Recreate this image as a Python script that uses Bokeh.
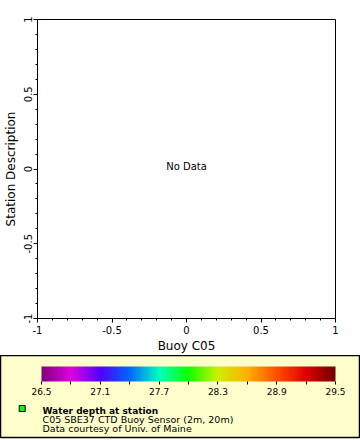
import numpy as np
from bokeh.plotting import figure
from bokeh.layouts import column, row
from bokeh.models import (FixedTicker, CustomJSTickFormatter, LinearColorMapper,
                          ColorBar, Range1d)
from bokeh.core.properties import value
from bokeh.embed import file_html
from bokeh.resources import INLINE

# ---------------- data ----------------
x_limits = [-1, 1]
y_limits = [-1, 1]
major_ticks = [-1, -0.5, 0, 0.5, 1]
minor_ticks = [-0.9, -0.8, -0.7, -0.6, -0.4, -0.3, -0.2, -0.1,
               0.1, 0.2, 0.3, 0.4, 0.6, 0.7, 0.8, 0.9]
x_axis_title = "Buoy C05"
y_axis_title = "Station Description"
no_data_x = [0]
no_data_y = [0]
no_data_text = ["No Data"]

cb_low = 26.5
cb_high = 29.5
cb_label_ticks = [26.5, 27.1, 27.7, 28.3, 28.9, 29.5]
cb_minor_ticks = [26.8, 27.4, 28.0, 28.6, 29.2]

legend_title = "Water depth at station"
legend_lines = ["C05 SBE37 CTD Buoy Sensor (2m, 20m)",
                "Data courtesy of Univ. of Maine"]

# ---------------- style ----------------
FONT = "DejaVu Sans"
anchors = [(0.0, "#800080"), (0.1, "#e000e0"), (0.2, "#5000ff"), (0.3, "#0068ff"),
           (0.4, "#00ffc0"), (0.5, "#10ff00"), (0.6, "#ccf000"), (0.7, "#ffb000"),
           (0.8, "#ff5000"), (0.9, "#e00000"), (1.0, "#700000")]


def hex2rgb(h):
    return [int(h[i:i + 2], 16) for i in (1, 3, 5)]


def build_palette(n=256):
    pos = [a[0] for a in anchors]
    rgb = np.array([hex2rgb(a[1]) for a in anchors], dtype=float)
    t = np.linspace(0, 1, n)
    out = []
    for ti in t:
        c = [np.interp(ti, pos, rgb[:, k]) for k in range(3)]
        out.append("#%02x%02x%02x" % tuple(int(round(v)) for v in c))
    return out


palette = build_palette()

# ---------------- main plot ----------------
p = figure(width=360, height=355, x_range=Range1d(*x_limits), y_range=Range1d(*y_limits),
           output_backend="svg", toolbar_location=None,
           min_border_left=37, min_border_right=25, min_border_top=19, min_border_bottom=36)
p.grid.visible = False
p.outline_line_color = "black"
p.outline_line_alpha = 1.0
p.background_fill_color = "white"
p.border_fill_color = "white"

fmt = CustomJSTickFormatter(code="return String(tick);")
for ax, title in ((p.xaxis[0], x_axis_title), (p.yaxis[0], y_axis_title)):
    ax.ticker = FixedTicker(ticks=major_ticks, minor_ticks=minor_ticks)
    ax.formatter = fmt
    ax.axis_label = title
    ax.axis_label_text_font = FONT
    ax.axis_label_text_font_size = "12px"
    ax.axis_label_text_font_style = "normal"
    ax.axis_label_text_color = "black"
    ax.major_label_text_font = FONT
    ax.major_label_text_font_size = "10px"
    ax.major_label_text_color = "black"
    ax.axis_line_color = "black"
    ax.major_tick_line_color = "black"
    ax.minor_tick_line_color = "black"
    ax.major_tick_in = 0
    ax.major_tick_out = 4
    ax.minor_tick_in = 0
    ax.minor_tick_out = 2

p.xaxis.major_label_standoff = 3
p.xaxis.axis_label_standoff = 2
p.yaxis.major_label_orientation = "vertical"
p.yaxis.major_label_standoff = 2
p.yaxis.axis_label_standoff = 3

p.text(x=no_data_x, y=no_data_y, text=no_data_text, text_align="center",
       text_baseline="alphabetic", y_offset=-3, text_font=value(FONT),
       text_font_size="10px", text_color="black")

# ---------------- legend / colorbar panel ----------------
q = figure(width=360, height=85, x_range=Range1d(0, 359), y_range=Range1d(0, 82),
           x_axis_type=None, y_axis_type=None,
           output_backend="svg", toolbar_location=None,
           min_border_left=0, min_border_right=1, min_border_top=0, min_border_bottom=3)
q.grid.visible = False
q.background_fill_color = "#ffffcc"
q.border_fill_color = "white"
q.outline_line_color = "black"
q.outline_line_width = 1.5

mapper = LinearColorMapper(palette=palette, low=cb_low, high=cb_high)
cb = ColorBar(color_mapper=mapper, orientation="horizontal", width=294, height=15,
              location=(41, 40), padding=0, margin=0,
              ticker=FixedTicker(ticks=cb_label_ticks, minor_ticks=cb_minor_ticks),
              formatter=CustomJSTickFormatter(code="return tick.toFixed(1);"),
              major_tick_in=0, major_tick_out=3, minor_tick_in=0, minor_tick_out=3,
              major_tick_line_color="black", minor_tick_line_color="black",
              major_label_text_font=FONT, major_label_text_font_size="9px",
              major_label_text_color="black", label_standoff=3,
              bar_line_color=None, border_line_color=None, background_fill_color=None)
q.add_layout(cb, "center")

q.scatter(x=[21.7], y=[29], marker="square", size=6, fill_color="#00ff00",
          line_color="black", line_width=1)
q.text(x=[42], y=[27], text=[legend_title], text_font=value(FONT), text_font_size="9px",
       text_font_style="bold", text_baseline="alphabetic", text_color="black")
q.text(x=[42, 42], y=[18.5, 9.5], text=legend_lines, text_font=value(FONT),
       text_font_size="9.5px", text_baseline="alphabetic", text_color="black")

layout = column(p, row(q))
open("out.html", "w").write(file_html(layout, INLINE))
